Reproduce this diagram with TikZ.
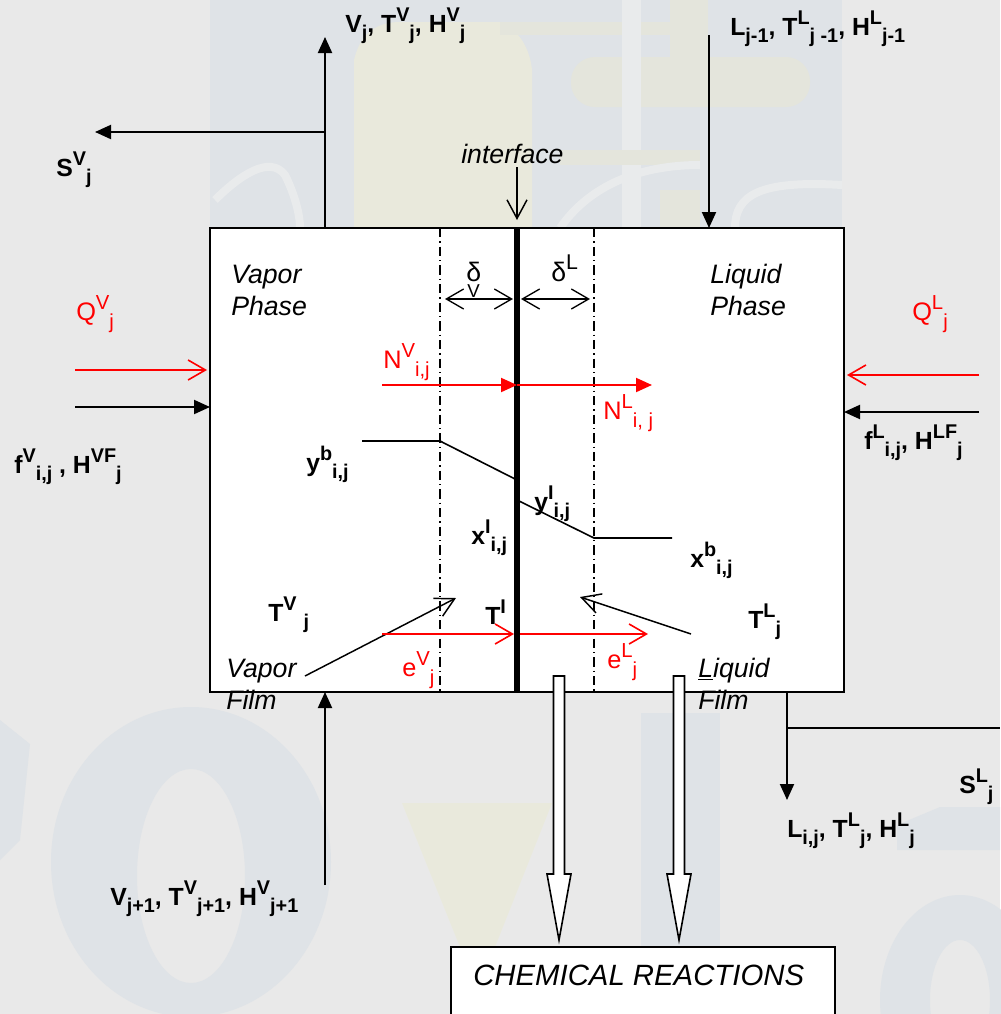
\documentclass[tikz,border=0pt]{standalone}
\usepackage{fontspec}
\setmainfont{Liberation Sans}
\usetikzlibrary{arrows.meta}
\definecolor{bgc}{HTML}{E9E9E9}
\definecolor{wmblue}{HTML}{DFE3E7}
\definecolor{wmyel}{HTML}{E9E9DC}
\definecolor{wmyelb}{HTML}{E4E5DC}
\definecolor{wmwhite}{HTML}{E9EBEC}
\newcommand\up[1]{\raisebox{0.42em}{\scalebox{0.8}{#1}}}
\newcommand\dn[1]{\raisebox{-0.32em}{\scalebox{0.8}{#1}}}
\tikzset{
  x=0.75pt,y=-0.75pt,
  lbl/.style={inner sep=0pt,anchor=base west,font=\fontsize{18.6}{20}\selectfont\bfseries},
  rlbl/.style={inner sep=0pt,anchor=base west,text=red,font=\fontsize{19}{20}\selectfont},
  ital/.style={inner sep=0pt,anchor=base west,align=left,font=\fontsize{20}{24}\selectfont\itshape},
  flow/.style={line width=1.5pt,-{Triangle[length=12pt,width=10.5pt]}},
  rflow/.style={red,line width=1.5pt,-{Triangle[length=12pt,width=10.5pt]}},
  open/.style={line width=1.1pt,-{Straight Barb[length=14pt,width=15pt]}},
  ropen/.style={red,line width=1.2pt,-{Straight Barb[length=13pt,width=15pt]}},
  dbl/.style={line width=1pt,{Straight Barb[length=13pt,width=15pt]}-{Straight Barb[length=13pt,width=15pt]}},
  film/.style={line width=1pt,dash pattern=on 7pt off 3pt on 1pt off 3pt},
  hollow/.style={draw=black,fill=white,line width=1.2pt},
}
\begin{document}
\begin{tikzpicture}
\useasboundingbox (0,0) rectangle (1000,1014);
\fill[bgc] (0,0) rectangle (1000,1014);
% faint watermark
\fill[wmblue] (210,0) rectangle (842,228);
\fill[wmyel] (354,228) -- (354,60) .. controls (360,35) and (375,22) .. (400,22) -- (500,22) .. controls (520,30) and (530,50) .. (532,70) -- (532,228) -- cycle;
\fill[wmyelb] (500,22) rectangle (700,35);
\fill[wmyelb] (670,0) rectangle (708,60);
\fill[wmyelb,rounded corners=18pt] (571,57) rectangle (810,107);
\fill[wmwhite] (622,0) rectangle (641,228);
\fill[wmyelb] (560,150) rectangle (700,165);
\fill[wmyelb] (660,190) rectangle (700,228);
\draw[wmwhite,line width=6pt] (215,200) .. controls (240,175) and (270,155) .. (285,175) .. controls (295,195) and (300,215) .. (300,228);
\draw[wmwhite,line width=6pt] (560,228) .. controls (590,185) and (640,165) .. (700,165);
\draw[wmwhite,line width=6pt] (735,228) .. controls (735,195) and (760,180) .. (842,185);
\fill[wmblue] (641,713) rectangle (720,1014);
\fill[wmyel] (402,803) -- (552,803) -- (495,947) -- (460,947) -- cycle;
\fill[wmblue,even odd rule] (191,862) ellipse (140 and 155) (191,876) ellipse (54 and 107);
\fill[wmblue] (0,720) -- (30,744) -- (20,840) -- (0,860) -- cycle;
\fill[wmblue,even odd rule] (960,1000) ellipse (80 and 105) (960,1000) ellipse (30 and 60);
\fill[wmblue] (897,850) -- (897,825) -- (940,807) -- (1000,807) -- (1000,850) -- cycle;
% main boxes
\node[draw=black,fill=white,line width=1.2pt,minimum width=634*0.75pt,minimum height=464*0.75pt,inner sep=0pt,anchor=north west] (main) at (209,227) {};
\node[draw=black,fill=white,line width=1.2pt,minimum width=384*0.75pt,minimum height=90*0.75pt,inner sep=0pt,anchor=north west] (react) at (450,946) {};
% films & interface
\coordinate (f1t) at (440,228); \coordinate (f1b) at (440,692);
\coordinate (f2t) at (594,228); \coordinate (f2b) at (594,692);
\coordinate (it) at (517,228);  \coordinate (ib) at (517,692);
\draw[film] (f1t) -- (f1b);
\draw[film] (f2t) -- (f2b);
\draw[line width=4pt] (it) -- (ib);
% delta arrows
\coordinate (d1a) at (445,299); \coordinate (d1b) at (513,299);
\coordinate (d2a) at (521,299); \coordinate (d2b) at (590,299);
\draw[dbl] (d1a) -- (d1b);
\draw[dbl] (d2a) -- (d2b);
% outside flows
\coordinate (vtop) at (325,37); \coordinate (vbot) at (325,228);
\coordinate (sv) at (95,132); \coordinate (svj) at (325,132);
\draw[flow] (vbot) -- (vtop);
\draw[flow] (svj) -- (sv);
\coordinate (lt) at (709,35); \coordinate (lb) at (709,228);
\draw[flow] (lt) -- (lb);
\coordinate (ifa) at (517,167); \coordinate (ifb) at (517,220);
\draw[open] (ifa) -- (ifb);
\coordinate (qva) at (75,370); \coordinate (qvb) at (207,370);
\draw[ropen] (qva) -- (qvb);
\coordinate (fva) at (75,407); \coordinate (fvb) at (210,407);
\draw[flow] (fva) -- (fvb);
\coordinate (qla) at (979,375); \coordinate (qlb) at (847,375);
\draw[ropen] (qla) -- (qlb);
\coordinate (fla) at (979,412); \coordinate (flb) at (844,412);
\draw[flow] (fla) -- (flb);
\coordinate (vba) at (325,885); \coordinate (vbb) at (325,692);
\draw[flow] (vba) -- (vbb);
\coordinate (lba) at (787,692); \coordinate (lbb) at (787,800);
\draw[flow] (lba) -- (lbb);
\coordinate (slj) at (787,728); \coordinate (sle) at (1000,728);
\draw[line width=1.5pt] (slj) -- (sle);
% inside flows
\coordinate (nva) at (382,385); \coordinate (nvb) at (517,385); \coordinate (nlb) at (652,385);
\draw[rflow] (nva) -- (nvb);
\draw[rflow] (nvb) -- (nlb);
\draw[line width=1.2pt] (362,441) -- (440,441) -- (517,480);
\draw[line width=1.2pt] (517,500) -- (594,538) -- (672,538);
\coordinate (tva) at (305,676); \coordinate (tvb) at (456,598);
\draw[open] (tva) -- (tvb);
\coordinate (tla) at (691,634); \coordinate (tlb) at (580,597);
\draw[open] (tla) -- (tlb);
\coordinate (eva) at (382,634); \coordinate (evb) at (514,634); \coordinate (ela) at (520,634); \coordinate (elb) at (648,634);
\draw[ropen] (eva) -- (evb);
\draw[ropen] (ela) -- (elb);
% hollow arrows
\path[hollow] (553.5,676) -- (564.5,676) -- (564.5,874) -- (571,874) -- (559,940) -- (547,874) -- (553.5,874) -- cycle;
\path[hollow] (673.5,676) -- (684.5,676) -- (684.5,874) -- (691,874) -- (679,940) -- (667,874) -- (673.5,874) -- cycle;
% labels
\node[lbl] (t1) at (345,32) {V\dn{j}, T\up{V}\dn{j}, H\up{V}\dn{j}};
\node[lbl] (t2) at (730,35) {L\dn{j-1}, T\up{L}\dn{j -1}, H\up{L}\dn{j-1}};
\node[lbl] (t3) at (56,176) {S\up{V}\dn{j}};
\node[ital] (t4) at (461,163) {interface};
\node[ital] (t5) at (231,315) {Vapor\\Phase};
\node[ital] (t6) at (710,315) {Liquid\\Phase};
\node[inner sep=0pt,anchor=base west,font=\fontsize{20}{22}\selectfont] (t7) at (466,281) {δ};
\node[inner sep=0pt,anchor=base west,font=\fontsize{14}{16}\selectfont] (t8) at (467,297) {V};
\node[inner sep=0pt,anchor=base west,font=\fontsize{20}{22}\selectfont] (t9) at (551,281) {δ\up{L}};
\node[rlbl] (t10) at (76,320) {Q\up{V}\dn{j}};
\node[rlbl] (t11) at (912,320) {Q\up{L}\dn{j}};
\node[rlbl] (t12) at (383,368) {N\up{V}\dn{i,j}};
\node[rlbl] (t13) at (603,419) {N\up{L}\dn{i, j}};
\node[lbl] (t14) at (14,473) {f\up{V}\dn{i,j} , H\up{VF}\dn{j}};
\node[lbl] (t15) at (864,449) {f\up{L}\dn{i,j}, H\up{LF}\dn{j}};
\node[lbl] (t16) at (306,471) {y\up{b}\dn{i,j}};
\node[lbl] (t17) at (534,510) {y\up{I}\dn{i,j}};
\node[lbl] (t18) at (471,544) {x\up{I}\dn{i,j}};
\node[lbl] (t19) at (690,567) {x\up{b}\dn{i,j}};
\node[lbl] (t20) at (268,621) {T\up{V} \dn{j}};
\node[lbl] (t21) at (748,628) {T\up{L}\dn{j}};
\node[lbl] (t22) at (485,624) {T\up{I}};
\node[rlbl] (t23) at (402,676) {e\up{V}\dn{j}};
\node[rlbl] (t24) at (607,668) {e\up{L}\dn{j}};
\node[ital] (t25) at (226,709) {Vapor\\Film};
\node[ital] (t26) at (698,709) {\underline{L}iquid\\Film};
\node[lbl] (t27) at (959,793) {S\up{L}\dn{j}};
\node[lbl] (t28) at (787,837) {L\dn{i,j}, T\up{L}\dn{j}, H\up{L}\dn{j}};
\node[lbl] (t29) at (110,905) {V\dn{j+1}, T\up{V}\dn{j+1}, H\up{V}\dn{j+1}};
\node[ital,font=\fontsize{22}{24}\selectfont\itshape] (t30) at (473,985) {CHEMICAL REACTIONS};
\end{tikzpicture}
\end{document}
